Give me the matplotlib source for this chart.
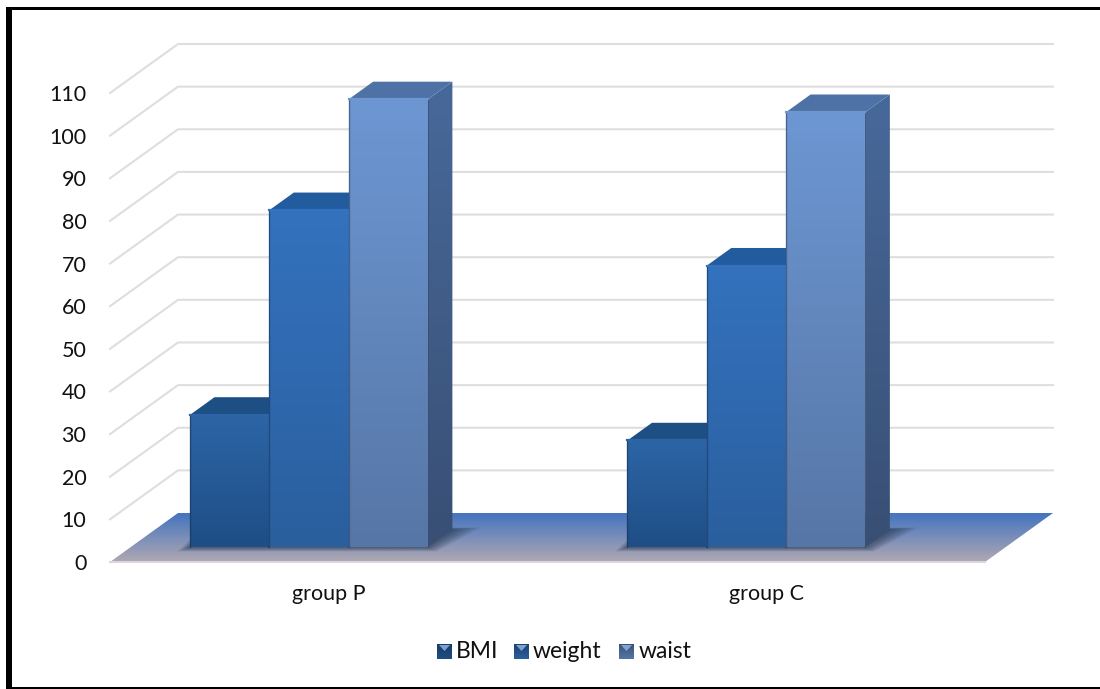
#!/usr/bin/env python3
import numpy as np
import matplotlib
matplotlib.use("Agg")
import matplotlib.pyplot as plt
from matplotlib.colors import LinearSegmentedColormap
from matplotlib.patches import Polygon, Rectangle
from matplotlib.transforms import Affine2D

groups = ["group P", "group C"]
series = ["BMI", "weight", "waist"]
bmi = [31, 25]
weight = [79, 66]
waist = [105, 102]
yticks = list(range(0, 120, 10))

W, H = 1100, 689
plt.rcParams["font.family"] = ["Lato", "DejaVu Sans"]

# colours per series: front top, front bottom, top face, side top, side bottom
styles = [
    ("#2C65A6", "#1F4E85", "#1E4F84", "#1D4676", "#173A62"),
    ("#3472BE", "#2A5F9E", "#235C9E", "#234F86", "#1C3F6C"),
    ("#6D97D3", "#5676A6", "#4F72A6", "#47699A", "#394F74"),
]

fig = plt.figure(figsize=(W / 100, H / 100), dpi=100, facecolor="white")
ax = fig.add_axes([110 / W, (H - 562) / H, 875 / W, 469 / H])
ax.set_xlim(0, 2)
ax.set_ylim(0, 110)
ax.set_autoscale_on(False)
ax.patch.set_visible(False)
for s in ax.spines.values():
    s.set_visible(False)

# pixel coordinates from the top left corner, for frame and legend
px = Affine2D().scale(1, -1).translate(0, H)

# depth of the 3d box in data units
depth_x = 68 / 437.5
depth_y = 49 / 4.265
bar_w = 79.3 / 437.5
bar_d0 = 0.306
bar_d1 = 0.666
bar_start = 80 / 437.5 - depth_x * bar_d0


def project(x, y, d):
    return (x + depth_x * d, y + depth_y * d)


def gradient_poly(pts, top, bottom, zorder):
    pts = np.array(pts)
    cmap = LinearSegmentedColormap.from_list("g", [top, bottom])
    grad = np.linspace(0, 1, 256).reshape(-1, 1)
    im = ax.imshow(grad, cmap=cmap, aspect="auto", zorder=zorder, interpolation="bilinear",
                   extent=(pts[:, 0].min(), pts[:, 0].max(), pts[:, 1].min(), pts[:, 1].max()))
    clip = Polygon(pts, closed=True, transform=ax.transData)
    im.set_clip_box(fig.bbox)
    im.set_clip_path(clip)
    return im


# Gridlines on back and side walls
for v in yticks[1:]:
    ax.plot([0, depth_x, 2 + depth_x], [v, v + depth_y, v + depth_y], color="#DEDEDE",
            lw=1.5, clip_on=False, zorder=1, solid_joinstyle="miter")

# Floor
floor = [project(0, 0, 0), project(2, 0, 0), project(2, 0, 1), project(0, 0, 1)]
gradient_poly(floor, "#4474BF", "#B0A8B2", 2)
ax.plot([0, 2], [0, 0], color="#DCD4DE", lw=1.5, clip_on=False, zorder=2.5)

# Soft shadow under each group of bars
for g in range(len(groups)):
    x0 = g + bar_start
    x1 = x0 + 3 * bar_w
    for k in np.linspace(1, 0, 14):
        gx = k * 18 / 437.5
        gy = k * 9 / 4.265
        shadow = [project(x0 - gx * 0.7, -gy * 0.5, bar_d0), project(x1 + gx * 0.5, -gy * 0.5, bar_d0),
                  project(x1 + gx * 1.6, gy * 0.2, bar_d1), project(x0 - gx * 0.7, gy * 0.2, bar_d1)]
        ax.add_patch(Polygon(shadow, closed=True, facecolor="#16263C", edgecolor="none",
                             alpha=0.05, clip_on=False, zorder=3))

# Bars, drawn left to right so each one covers the side of the previous
for s, values in enumerate([bmi, weight, waist]):
    front_top, front_bottom, top_col, side_top, side_bottom = styles[s]
    for g, v in enumerate(values):
        x0 = g + bar_start + s * bar_w
        x1 = x0 + bar_w
        z = 10 + s * 2
        fb_l = project(x0, 0, bar_d0)
        fb_r = project(x1, 0, bar_d0)
        ft_l = project(x0, v, bar_d0)
        ft_r = project(x1, v, bar_d0)
        bb_r = project(x1, 0, bar_d1)
        bt_r = project(x1, v, bar_d1)
        bt_l = project(x0, v, bar_d1)
        gradient_poly([fb_r, bb_r, bt_r, ft_r], side_top, side_bottom, z)
        ax.add_patch(Polygon([ft_l, ft_r, bt_r, bt_l], closed=True, facecolor=top_col,
                             edgecolor="none", clip_on=False, zorder=z))
        gradient_poly([fb_l, fb_r, ft_r, ft_l], front_top, front_bottom, z + 1)
        # close the seam between front and side faces
        ax.plot([fb_r[0], ft_r[0]], [fb_r[1], ft_r[1]], color=side_bottom, lw=1.2,
                clip_on=False, zorder=z + 0.5)
        ax.plot([fb_l[0], ft_l[0]], [fb_l[1], ft_l[1]], color=side_bottom, lw=1.0, alpha=0.7,
                clip_on=False, zorder=z + 1.5)
        ax.plot([ft_l[0], ft_r[0]], [ft_l[1], ft_r[1]], color=front_top, lw=1.6,
                clip_on=False, zorder=z + 1.5)

# Axis labels
ax.set_yticks(yticks)
ax.set_xticks([g + 0.5 for g in range(len(groups))])
ax.set_xticklabels(groups)
ax.tick_params(axis="y", length=0, pad=17, labelsize=15.5, labelcolor="#111111")
ax.tick_params(axis="x", length=0, pad=16, labelsize=15.5, labelcolor="#111111")

# Legend with small bevelled squares
marker_x = [437, 514, 619]
label_x = [456, 533, 639]
to_data = (px + ax.transData.inverted()).transform
for s, name in enumerate(series):
    mx = marker_x[s]
    c_top, c_bottom = styles[s][4], styles[s][1]
    square = to_data([(mx, 644), (mx + 15, 644), (mx + 15, 659), (mx, 659)])
    gradient_poly(square, c_top, c_bottom, 20)
    notch = to_data([(mx + 2, 645), (mx + 13, 645), (mx + 7.5, 651)])
    ax.add_patch(Polygon(notch, closed=True, facecolor="#8DB2E4", alpha=0.85, edgecolor="none",
                         clip_on=False, zorder=21))
    ax.text(label_x[s], 652, name, transform=px, fontsize=16.5, color="#111111",
            ha="left", va="center", clip_on=False)

# Chart frame
for x, y, w, h in [(6, 7, 6, 681), (6, 7, W - 6, 3), (6, 687, W - 6, 1.5)]:
    fig.add_artist(Rectangle((x, y), w, h, transform=px, facecolor="black", edgecolor="none"))

plt.savefig("out.png", dpi=100)
